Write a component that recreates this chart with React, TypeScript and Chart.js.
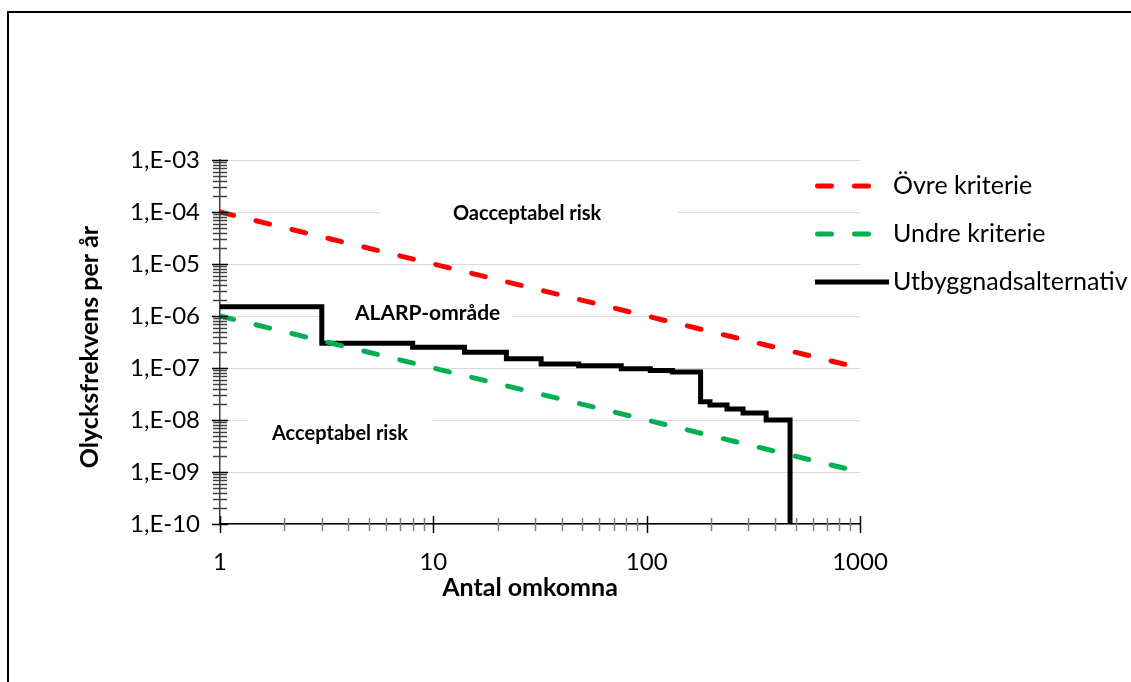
import React, { useEffect, useRef } from 'react';
import { Chart, registerables } from 'chart.js';

Chart.register(...registerables);

// ---- data ----
const seriesNames = ['Övre kriterie', 'Undre kriterie', 'Utbyggnadsalternativ'];
const upperX = [1, 1000];
const upperY = [1e-4, 1e-7];
const lowerX = [1, 1000];
const lowerY = [1e-6, 1e-9];
const fnX = [1, 3, 8, 14, 22, 32, 48, 76, 104, 132, 179, 198, 238, 283, 363, 470];
const fnY = [1.5e-6, 3.0e-7, 2.5e-7, 2.0e-7, 1.5e-7, 1.2e-7, 1.1e-7, 9.7e-8, 9.0e-8, 8.4e-8, 2.25e-8, 1.94e-8, 1.63e-8, 1.36e-8, 1.0e-8, 1e-10];

const xTicks = [1, 10, 100, 1000];
const xTickLabels = ['1', '10', '100', '1000'];
const yTicks = [1e-10, 1e-9, 1e-8, 1e-7, 1e-6, 1e-5, 1e-4, 1e-3];
const yTickLabels = ['1,E-10', '1,E-09', '1,E-08', '1,E-07', '1,E-06', '1,E-05', '1,E-04', '1,E-03'];

const xTitle = 'Antal omkomna';
const yTitle = 'Olycksfrekvens per år';

const regionLabels = ['Oacceptabel risk', 'ALARP-område', 'Acceptabel risk'];
const regionX = [27.5, 9.4, 3.65];
const regionY = [9.2e-5, 1.14e-6, 5.4e-9];

// ---- styles ----
const FONT = 'Lato, "Open Sans", sans-serif';
const boxLeft = [-147, -107, -93];
const boxRight = [151, 84, 93];

const overlay = {
  id: 'overlay',
  beforeDatasetsDraw(chart: any) {
    const { ctx } = chart;
    const x = chart.scales.x;
    const y = chart.scales.y;
    ctx.save();
    ctx.textAlign = 'center';
    ctx.textBaseline = 'middle';
    regionLabels.forEach((t, i) => {
      const px = x.getPixelForValue(regionX[i]);
      const py = y.getPixelForValue(regionY[i]);
      ctx.fillStyle = '#ffffff';
      ctx.fillRect(px + boxLeft[i], py - 14, boxRight[i] - boxLeft[i], 28);
      ctx.fillStyle = '#000000';
      ctx.font = `bold ${i === 1 ? 21 : 20}px ${FONT}`;
      ctx.fillText(t, px, py);
    });
    ctx.restore();
  },
  afterDraw(chart: any) {
    const { ctx } = chart;
    const x = chart.scales.x;
    const y = chart.scales.y;
    const area = chart.chartArea;
    ctx.save();
    // minor + major tick marks crossing the axes
    ctx.lineWidth = 1.5;
    for (let d = 1; d < 1000; d *= 10) {
      for (let k = 2; k <= 9; k++) {
        const px = Math.round(x.getPixelForValue(d * k)) + 0.5;
        ctx.strokeStyle = '#7f7f7f';
        ctx.beginPath();
        ctx.moveTo(px, area.bottom - 6);
        ctx.lineTo(px, area.bottom + 7);
        ctx.stroke();
      }
    }
    xTicks.forEach((v) => {
      const px = Math.round(x.getPixelForValue(v)) + 0.5;
      ctx.strokeStyle = '#000000';
      ctx.beginPath();
      ctx.moveTo(px, area.bottom - 8);
      ctx.lineTo(px, area.bottom + 9);
      ctx.stroke();
    });
    for (let e = -10; e < -3; e++) {
      const d = Math.pow(10, e);
      for (let k = 2; k <= 9; k++) {
        const py = Math.round(y.getPixelForValue(d * k)) + 0.5;
        ctx.strokeStyle = '#404040';
        ctx.beginPath();
        ctx.moveTo(area.left - 7, py);
        ctx.lineTo(area.left + 7, py);
        ctx.stroke();
      }
    }
    yTicks.forEach((v) => {
      const py = Math.round(y.getPixelForValue(v)) + 0.5;
      ctx.strokeStyle = '#000000';
      ctx.beginPath();
      ctx.moveTo(area.left - 8, py);
      ctx.lineTo(area.left + 8, py);
      ctx.stroke();
    });

    // axis titles
    ctx.fillStyle = '#000000';
    ctx.font = `bold 25px ${FONT}`;
    ctx.textAlign = 'center';
    ctx.textBaseline = 'middle';
    ctx.fillText(xTitle, 530, 588);
    ctx.save();
    ctx.translate(90, 347);
    ctx.rotate(-Math.PI / 2);
    ctx.fillText(yTitle, 0, 0);
    ctx.restore();

    // legend
    const legendY = [186, 234, 282];
    ctx.font = `25px ${FONT}`;
    ctx.textAlign = 'left';
    chart.data.datasets.forEach((ds: any, i: number) => {
      const ly = legendY[i];
      ctx.strokeStyle = ds.borderColor;
      ctx.lineWidth = ds.borderWidth;
      if (ds.borderDash && ds.borderDash.length) {
        ctx.setLineDash(ds.borderDash);
        ctx.lineCap = 'round';
        ctx.beginPath();
        ctx.moveTo(817.5, ly);
        ctx.lineTo(871, ly);
        ctx.stroke();
      } else {
        ctx.setLineDash([]);
        ctx.lineCap = 'butt';
        ctx.beginPath();
        ctx.moveTo(815, ly);
        ctx.lineTo(889, ly);
        ctx.stroke();
      }
      ctx.setLineDash([]);
      ctx.fillStyle = '#000000';
      ctx.fillText(ds.label, 893, ly);
    });
    ctx.restore();
  },
};

export default function App() {
  const ref = useRef<HTMLCanvasElement | null>(null);
  useEffect(() => {
    const canvas = ref.current;
    if (!canvas) return;
    const chart = new Chart(canvas, {
      type: 'line',
      data: {
        datasets: [
          {
            label: seriesNames[0],
            data: upperX.map((v, i) => ({ x: v, y: upperY[i] })),
            borderColor: '#FF0000',
            borderWidth: 5,
            borderDash: [14, 23],
            borderCapStyle: 'round',
            pointRadius: 0,
            fill: false,
          },
          {
            label: seriesNames[1],
            data: lowerX.map((v, i) => ({ x: v, y: lowerY[i] })),
            borderColor: '#00B050',
            borderWidth: 5,
            borderDash: [14, 23],
            borderCapStyle: 'round',
            pointRadius: 0,
            fill: false,
          },
          {
            label: seriesNames[2],
            data: fnX.map((v, i) => ({ x: v, y: fnY[i] })),
            borderColor: '#000000',
            borderWidth: 5,
            stepped: true,
            borderJoinStyle: 'miter',
            pointRadius: 0,
            fill: false,
          },
        ],
      } as any,
      options: {
        responsive: false,
        animation: false,
        events: [],
        layout: { padding: { left: 0, top: 160, right: 271, bottom: 98 } },
        plugins: { legend: { display: false }, tooltip: { enabled: false } },
        scales: {
          x: {
            type: 'logarithmic',
            min: 1,
            max: 1000,
            afterBuildTicks: (s: any) => {
              s.ticks = xTicks.map((v) => ({ value: v }));
            },
            afterFit: (s: any) => {
              s.height = 60;
            },
            grid: { display: true, color: 'rgba(0,0,0,0)', drawTicks: false },
            border: { display: true, color: '#000000', width: 1.5 },
            ticks: {
              autoSkip: false,
              maxRotation: 0,
              padding: 24,
              color: '#000000',
              font: { size: 24, family: FONT },
              callback: (_v: any, i: number) => xTickLabels[i],
            },
          },
          y: {
            type: 'logarithmic',
            min: 1e-10,
            max: 1e-3,
            afterBuildTicks: (s: any) => {
              s.ticks = yTicks.map((v) => ({ value: v }));
            },
            afterFit: (s: any) => {
              s.width = 220;
            },
            grid: { color: '#d9d9d9', lineWidth: 1, drawTicks: false },
            border: { display: true, color: '#404040', width: 1.5 },
            ticks: {
              autoSkip: false,
              padding: 20,
              color: '#000000',
              font: { size: 24, family: FONT },
              callback: (_v: any, i: number) => yTickLabels[i],
            },
          },
        },
      } as any,
      plugins: [overlay],
    });
    return () => chart.destroy();
  }, []);

  return (
    <div
      style={{
        position: 'fixed',
        left: 0,
        top: 0,
        width: 1131,
        height: 682,
        overflow: 'hidden',
        background: '#ffffff',
      }}
    >
      <div
        style={{
          position: 'absolute',
          left: 7,
          top: 11,
          width: 1200,
          height: 800,
          borderLeft: '2px solid #000',
          borderTop: '2px solid #000',
          boxSizing: 'border-box',
        }}
      />
      <canvas
        ref={ref}
        width={1131}
        height={682}
        style={{ position: 'absolute', left: 0, top: 0, width: 1131, height: 682 }}
      />
    </div>
  );
}
